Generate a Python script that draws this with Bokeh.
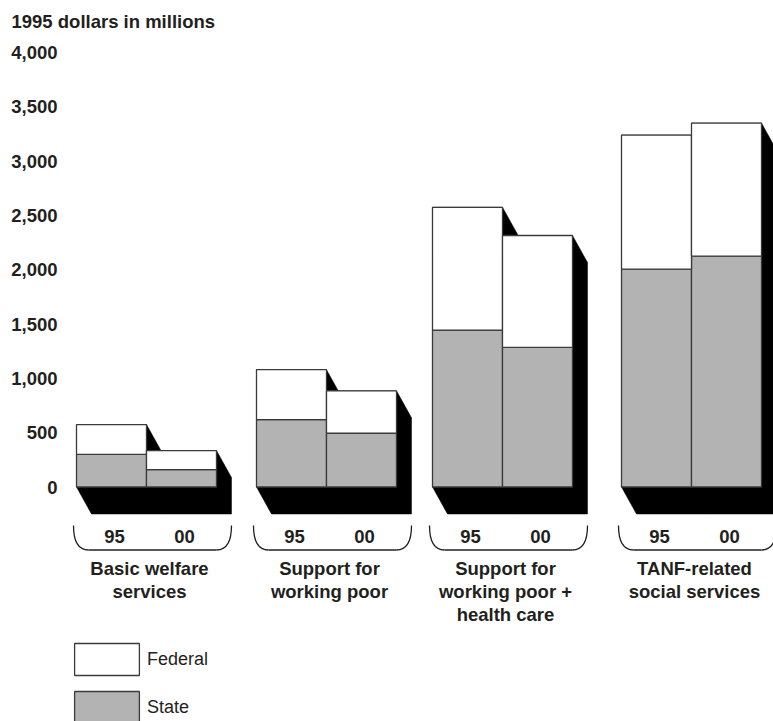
from bokeh.plotting import figure
from bokeh.models import Range1d, Legend, LegendItem, FixedTicker, NumeralTickFormatter, ColumnDataSource
from bokeh.core.properties import value
from bokeh.embed import file_html
from bokeh.resources import INLINE

# ---- data (1995 dollars in millions) ----
categories = [
    "Basic welfare\nservices",
    "Support for\nworking poor",
    "Support for\nworking poor +\nhealth care",
    "TANF-related\nsocial services",
]
years = ["95", "00"]
state_95 = [300, 620, 1445, 2005]
federal_95 = [275, 460, 1130, 1235]
state_00 = [160, 495, 1285, 2125]
federal_00 = [175, 390, 1030, 1225]
y_ticks = [0, 500, 1000, 1500, 2000, 2500, 3000, 3500, 4000]
series_names = ["Federal", "State"]

# ---- layout ----
W, H = 773, 721
FRAME_LEFT, FRAME_TOP = 60, 40
ZERO_PX = 486.5            # canvas row of the zero line
PX_PER_UNIT = 0.10863      # pixels per million dollars
GROUP_LEFTS = [76, 256, 432, 621]
BAR_W = 70
SHADOW_DX = 15
SHADOW_DY = 27 / PX_PER_UNIT
BOLD_SIZE = "18.5px"

def units(px_row):
    """canvas row -> value units"""
    return (ZERO_PX - px_row) / PX_PER_UNIT

FONT = value("Liberation Sans")
INK = "#231f20"
GRAY = "#b3b3b3"
EDGE = "#3a3a3a"

p = figure(
    width=W, height=H, output_backend="svg", toolbar_location=None,
    x_range=Range1d(FRAME_LEFT, W), y_range=Range1d(units(H), units(FRAME_TOP)),
    x_axis_location=None, min_border_left=FRAME_LEFT, min_border_top=FRAME_TOP,
    min_border_right=0, min_border_bottom=0,
)
p.grid.visible = False
p.outline_line_color = None
p.background_fill_color = "white"

# title
p.title.text = "1995 dollars in millions"
p.title.align = "left"
p.title.vertical_align = "top"
p.title.offset = -49
p.title.standoff = 14
p.title.text_font = "Liberation Sans"
p.title.text_font_size = BOLD_SIZE
p.title.text_font_style = "bold"
p.title.text_color = INK

# y axis
ax = p.yaxis[0]
ax.ticker = FixedTicker(ticks=y_ticks)
ax.formatter = NumeralTickFormatter(format="0,0")
ax.axis_line_color = None
ax.major_tick_line_color = None
ax.minor_tick_line_color = None
ax.major_tick_out = 0
ax.major_tick_in = 0
ax.minor_tick_out = 0
ax.major_label_standoff = 3
ax.major_label_text_font = "Liberation Sans"
ax.major_label_text_font_size = BOLD_SIZE
ax.major_label_text_font_style = "bold"
ax.major_label_text_color = INK

# bar geometry built from the series
bars = {"left": [], "right": [], "state": [], "total": []}
for g in range(len(categories)):
    for k, (st, fe) in enumerate([(state_95[g], federal_95[g]), (state_00[g], federal_00[g])]):
        x0 = GROUP_LEFTS[g] + k * BAR_W
        bars["left"].append(x0)
        bars["right"].append(x0 + BAR_W)
        bars["state"].append(st)
        bars["total"].append(st + fe)

# drop shadows: each bar swept down-right
xs, ys = [], []
for x0, x1, top in zip(bars["left"], bars["right"], bars["total"]):
    xs.append([x0, x0, x0 + SHADOW_DX, x1 + SHADOW_DX, x1 + SHADOW_DX, x1])
    ys.append([top, 0, -SHADOW_DY, -SHADOW_DY, top - SHADOW_DY, top])
p.patches(xs, ys, fill_color="black", line_color="black", line_width=0.5)

src = ColumnDataSource(dict(
    left=bars["left"], right=bars["right"],
    zero=[0] * len(bars["left"]), state=bars["state"], total=bars["total"],
))
state_r = p.quad(left="left", right="right", bottom="zero", top="state", source=src,
                 fill_color=GRAY, line_color=EDGE, line_width=1.3)
fed_r = p.quad(left="left", right="right", bottom="state", top="total", source=src,
               fill_color="white", line_color=EDGE, line_width=1.3)

# brackets under each group
b_top, b_bot = units(525), units(549.5)
for g in range(len(categories)):
    L = GROUP_LEFTS[g] - 3
    R = GROUP_LEFTS[g] + 2 * BAR_W + 15
    p.quadratic(x0=[L], y0=[b_top], x1=[L + 15], y1=[b_bot], cx=[L], cy=[b_bot],
                line_color=INK, line_width=1.3)
    p.segment(x0=[L + 15], y0=[b_bot], x1=[R - 15], y1=[b_bot], line_color=INK, line_width=1.3)
    p.quadratic(x0=[R - 15], y0=[b_bot], x1=[R], y1=[b_top], cx=[R], cy=[b_bot],
                line_color=INK, line_width=1.3)

# year labels
yx, yt = [], []
for g in range(len(categories)):
    for k, yr in enumerate(years):
        yx.append(GROUP_LEFTS[g] + k * BAR_W + BAR_W / 2 + 3)
        yt.append(yr)
p.text(x=yx, y=[units(536)] * len(yx), text=yt, text_font=FONT, text_font_size=BOLD_SIZE,
       text_font_style="bold", text_color=INK, text_align="center", text_baseline="middle")

# category labels
cx = [GROUP_LEFTS[g] + BAR_W + 3 for g in range(len(categories))]
p.text(x=cx, y=[units(557)] * len(cx), text=categories, text_font=FONT, text_font_size=BOLD_SIZE,
       text_font_style="bold", text_color=INK, text_align="center", text_baseline="top",
       text_line_height=1.1)

# legend
legend = Legend(
    items=[LegendItem(label=series_names[0], renderers=[fed_r]),
           LegendItem(label=series_names[1], renderers=[state_r])],
    location=(6, -6), orientation="vertical",
    glyph_width=81, glyph_height=40, spacing=8, label_standoff=-2,
    padding=0, margin=0, border_line_color=None, background_fill_alpha=0,
    label_text_font="Liberation Sans", label_text_font_size="18px", label_text_color=INK,
)
p.add_layout(legend)

open("out.html", "w").write(file_html(p, INLINE))
